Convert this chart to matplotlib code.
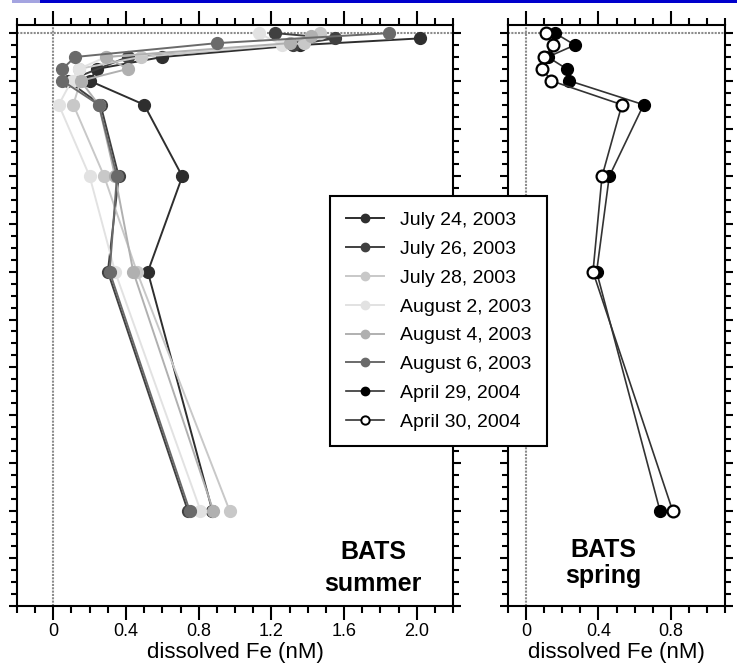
"""
Perfiles de hierro disuelto en BATS (verano 2003 y primavera 2004).
"""
import matplotlib.pyplot as plt
from matplotlib.patches import Rectangle
from matplotlib.lines import Line2D
from matplotlib.ticker import MultipleLocator, FuncFormatter

plt.rcParams['font.family'] = ['Liberation Sans', 'DejaVu Sans']

# Datos de verano (BATS 2003): profundidad (m) y Fe disuelto (nM)
fechas_verano = ['July 24, 2003', 'July 26, 2003', 'July 28, 2003',
                 'August 2, 2003', 'August 4, 2003', 'August 6, 2003']

prof_jul24 = [11, 25, 50, 75, 100, 150, 300, 500, 1000]
fe_jul24 = [2.02, 1.36, 0.60, 0.24, 0.20, 0.50, 0.71, 0.52, 0.875]

prof_jul26 = [0, 11, 25, 50, 100, 150, 300, 500, 1000]
fe_jul26 = [1.22, 1.55, 1.32, 0.41, 0.08, 0.26, 0.36, 0.30, 0.74]

prof_jul28 = [0, 21, 50, 75, 100, 150, 300, 500, 1000]
fe_jul28 = [1.47, 1.38, 0.48, 0.14, 0.15, 0.11, 0.28, 0.46, 0.97]

prof_ago02 = [0, 25, 50, 75, 100, 150, 300, 500, 1000]
fe_ago02 = [1.13, 1.26, 0.29, 0.14, 0.10, 0.03, 0.20, 0.34, 0.81]

prof_ago04 = [5, 21, 50, 75, 100, 150, 300, 500, 1000]
fe_ago04 = [1.42, 1.30, 0.29, 0.41, 0.15, 0.25, 0.34, 0.44, 0.88]

prof_ago06 = [0, 21, 50, 75, 100, 150, 300, 500, 1000]
fe_ago06 = [1.85, 0.90, 0.12, 0.05, 0.05, 0.25, 0.35, 0.31, 0.75]

# Datos de primavera (BATS 2004)
fechas_primavera = ['April 29, 2004', 'April 30, 2004']

prof_abr29 = [0, 25, 50, 75, 100, 150, 300, 500, 1000]
fe_abr29 = [0.16, 0.27, 0.12, 0.225, 0.24, 0.65, 0.46, 0.39, 0.74]

prof_abr30 = [0, 25, 50, 75, 100, 150, 300, 500, 1000]
fe_abr30 = [0.11, 0.15, 0.10, 0.09, 0.14, 0.53, 0.42, 0.37, 0.81]

perfiles_verano = [(prof_jul24, fe_jul24), (prof_jul26, fe_jul26),
                   (prof_jul28, fe_jul28), (prof_ago02, fe_ago02),
                   (prof_ago04, fe_ago04), (prof_ago06, fe_ago06)]
colores_verano = ['#2e2e2e', '#404040', '#c8c8c8', '#e2e2e2', '#b0b0b0', '#6a6a6a']


def formato_fe(v, pos):
    return '0' if abs(v) < 1e-9 else f'{v:.1f}'


def preparar_ejes(ax, xmin, xmax):
    ax.set_xlim(xmin, xmax)
    ax.set_ylim(1200, -17)
    ax.xaxis.set_major_locator(MultipleLocator(0.4))
    ax.xaxis.set_minor_locator(MultipleLocator(0.1))
    ax.xaxis.set_major_formatter(FuncFormatter(formato_fe))
    ax.yaxis.set_major_locator(MultipleLocator(100))
    ax.yaxis.set_minor_locator(MultipleLocator(25))
    ax.tick_params(which='both', direction='out', top=True, right=True,
                   labelleft=False, width=1.5, labelsize=13, pad=2)
    ax.tick_params(axis='x', which='major', length=10)
    ax.tick_params(axis='x', which='minor', length=5)
    ax.tick_params(axis='y', which='major', length=6)
    ax.tick_params(axis='y', which='minor', length=4)
    for s in ax.spines.values():
        s.set_linewidth(1.5)
    # Lineas de referencia en Fe = 0 y superficie
    ax.axvline(0, color='#8c8c8c', lw=1.5, ls=(0, (1, 0.6)), zorder=1)
    ax.axhline(0, color='#8c8c8c', lw=1.5, ls=(0, (1, 0.6)), zorder=1)
    ax.set_xlabel('dissolved Fe (nM)', fontsize=16, labelpad=2)


fig = plt.figure(figsize=(7.37, 6.69), dpi=100)

# Barra azul superior
fig.add_artist(Rectangle((40 / 737, 1 - 3 / 669), 697 / 737, 3 / 669,
                         transform=fig.transFigure, color='#0000cc', lw=0))
fig.add_artist(Rectangle((12 / 737, 1 - 3 / 669), 28 / 737, 3 / 669,
                         transform=fig.transFigure, color='#a4a4e0', lw=0))

ax1 = fig.add_axes([17 / 737, 63 / 669, 436 / 737, 581 / 669])
ax2 = fig.add_axes([508 / 737, 63 / 669, 217 / 737, 581 / 669])

preparar_ejes(ax1, -0.2, 2.2)
preparar_ejes(ax2, -0.1, 1.1)

manijas = []
for (prof, fe), color in zip(perfiles_verano, colores_verano):
    ax1.plot(fe, prof, '-o', color=color, lw=1.4, ms=8.5,
             mfc=color, mec=color, zorder=3)
    manijas.append(Line2D([], [], color=color, lw=1.4, marker='o', ms=6,
                          mfc=color, mec=color))

ax2.plot(fe_abr29, prof_abr29, '-o', color='#333333', lw=1.2, ms=8.5,
         mfc='black', mec='black', zorder=3)
ax2.plot(fe_abr30, prof_abr30, '-o', color='#333333', lw=1.2, ms=8.5,
         mfc='white', mec='black', mew=1.6, zorder=4)
manijas.append(Line2D([], [], color='#333333', lw=1.2, marker='o', ms=6,
                      mfc='black', mec='black'))
manijas.append(Line2D([], [], color='#333333', lw=1.2, marker='o', ms=6,
                      mfc='white', mec='black', mew=1.4))

# Etiquetas de estacion
ax1.text(0.8165, 0.081, 'BATS', transform=ax1.transAxes, ha='center',
         va='baseline', fontsize=18, fontweight='bold')
ax1.text(0.8165, 0.026, 'summer', transform=ax1.transAxes, ha='center',
         va='baseline', fontsize=18, fontweight='bold')
ax2.text(0.438, 0.084, 'BATS', transform=ax2.transAxes, ha='center',
         va='baseline', fontsize=18, fontweight='bold')
ax2.text(0.438, 0.040, 'spring', transform=ax2.transAxes, ha='center',
         va='baseline', fontsize=18, fontweight='bold')

leg = fig.legend(manijas, fechas_verano + fechas_primavera,
                 loc='upper left', bbox_to_anchor=(330 / 737, 1 - 196 / 669),
                 fontsize=14, frameon=True, fancybox=False, framealpha=1,
                 edgecolor='black', borderaxespad=0, borderpad=0.8,
                 handlelength=2.0, handletextpad=0.8, labelspacing=0.575)
leg.get_frame().set_linewidth(1.5)

plt.savefig('out.png', dpi=100)
plt.close()
